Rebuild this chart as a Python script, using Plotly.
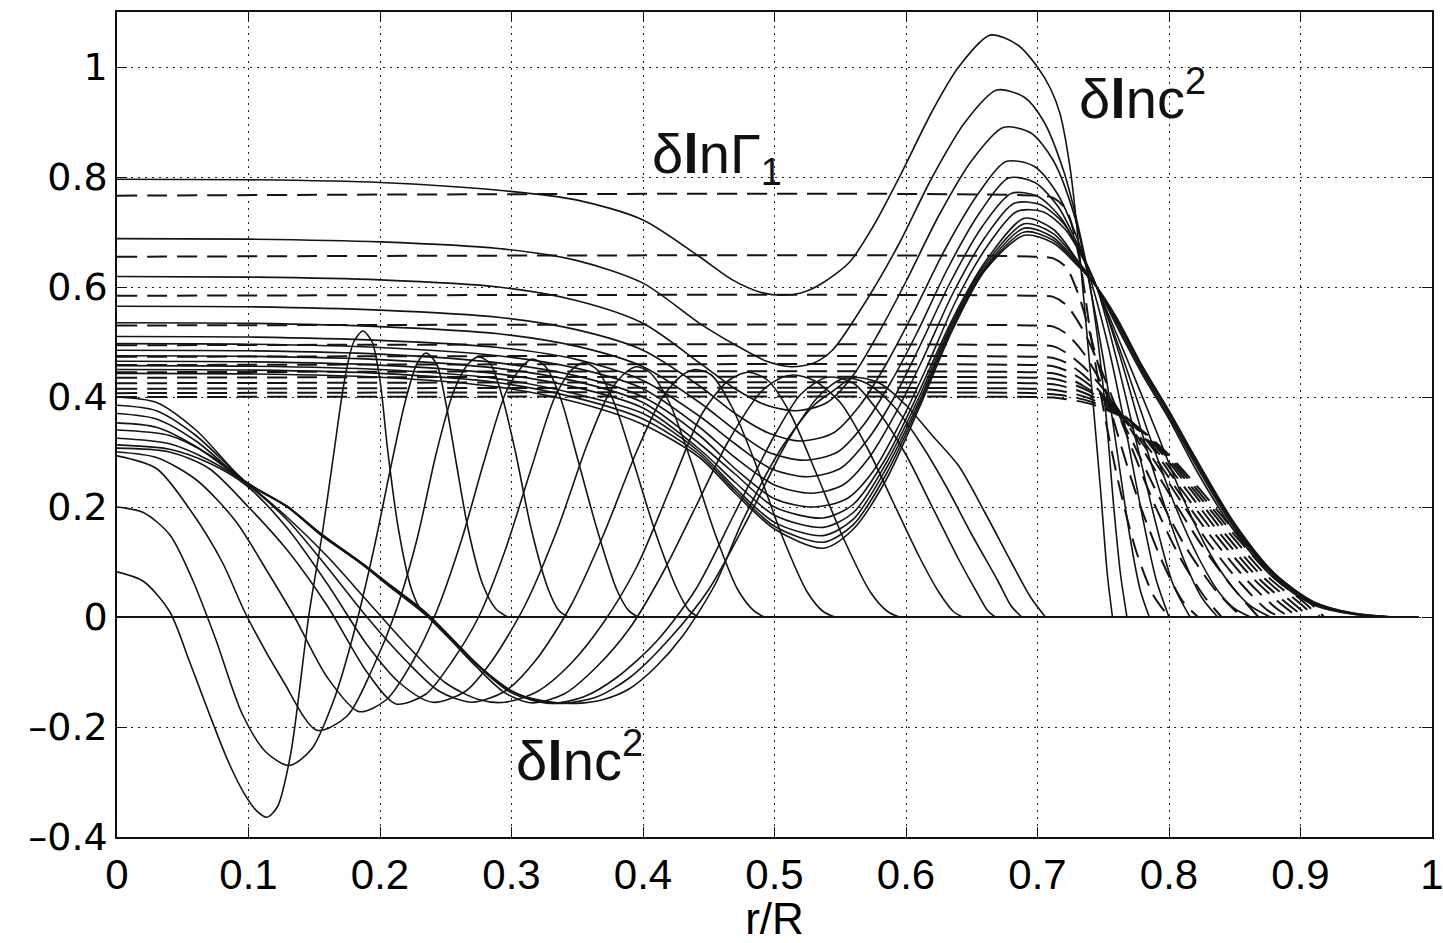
import plotly.graph_objects as go

# ---------------- data ----------------
X_TICKS = [0, 0.1, 0.2, 0.3, 0.4, 0.5, 0.6, 0.7, 0.8, 0.9, 1.0]
X_TICK_TEXT = ["0", "0.1", "0.2", "0.3", "0.4", "0.5", "0.6", "0.7", "0.8", "0.9", "1"]
Y_TICKS = [-0.4, -0.2, 0, 0.2, 0.4, 0.6, 0.8, 1.0]
Y_TICK_TEXT = ["\u20130.4", "\u20130.2", "0", "0.2", "0.4", "0.6", "0.8", "1"]

# dashed family: delta ln Gamma_1 (flat level, then a tail)
DASH_LEVELS = [0.766, 0.655, 0.584, 0.53, 0.494, 0.473, 0.458, 0.445, 0.435, 0.425, 0.415, 0.407, 0.40]
DASH_TAIL_X = [
    [0.712, 0.722, 0.732, 0.74, 0.75, 0.762, 0.775, 0.788, 0.8],
    [0.712, 0.722, 0.732, 0.745, 0.76, 0.777, 0.795, 0.81, 0.822],
    [0.712, 0.722, 0.735, 0.75, 0.768, 0.788, 0.808, 0.826, 0.84],
    [0.712, 0.722, 0.735, 0.75, 0.77, 0.79, 0.812, 0.835, 0.855],
    [0.712, 0.722, 0.735, 0.755, 0.775, 0.8, 0.825, 0.848, 0.868],
    [0.712, 0.722, 0.735, 0.755, 0.78, 0.805, 0.83, 0.855, 0.875, 0.885],
    [0.712, 0.722, 0.735, 0.757, 0.782, 0.808, 0.834, 0.86, 0.882, 0.892],
    [0.712, 0.722, 0.735, 0.76, 0.785, 0.81, 0.837, 0.864, 0.888, 0.898],
    [0.712, 0.722, 0.737, 0.762, 0.787, 0.813, 0.84, 0.867, 0.892, 0.903],
    [0.712, 0.722, 0.738, 0.764, 0.79, 0.816, 0.843, 0.87, 0.896, 0.907],
    [0.712, 0.722, 0.739, 0.766, 0.792, 0.818, 0.846, 0.873, 0.9, 0.911],
    [0.712, 0.722, 0.74, 0.768, 0.794, 0.82, 0.848, 0.876, 0.903, 0.915],
    [0.712, 0.722, 0.741, 0.77, 0.796, 0.822, 0.85, 0.878, 0.906, 0.918],
]
DASH_TAIL_Y = [
    [0.762, 0.74, 0.65, 0.52, 0.38, 0.24, 0.12, 0.04, 0.0],
    [0.652, 0.635, 0.58, 0.47, 0.34, 0.21, 0.10, 0.03, 0.0],
    [0.582, 0.567, 0.52, 0.44, 0.33, 0.21, 0.11, 0.04, 0.0],
    [0.528, 0.515, 0.48, 0.42, 0.33, 0.23, 0.13, 0.05, 0.0],
    [0.492, 0.48, 0.455, 0.40, 0.325, 0.225, 0.13, 0.055, 0.0],
    [0.471, 0.462, 0.44, 0.39, 0.315, 0.225, 0.135, 0.06, 0.012, 0.0],
    [0.456, 0.448, 0.43, 0.385, 0.315, 0.225, 0.14, 0.065, 0.015, 0.0],
    [0.443, 0.436, 0.42, 0.38, 0.315, 0.23, 0.145, 0.07, 0.018, 0.0],
    [0.433, 0.427, 0.413, 0.375, 0.313, 0.232, 0.148, 0.073, 0.02, 0.0],
    [0.423, 0.418, 0.405, 0.37, 0.31, 0.233, 0.15, 0.076, 0.022, 0.0],
    [0.413, 0.409, 0.398, 0.365, 0.308, 0.234, 0.152, 0.078, 0.024, 0.0],
    [0.405, 0.402, 0.392, 0.36, 0.306, 0.235, 0.154, 0.08, 0.026, 0.0],
    [0.399, 0.396, 0.387, 0.356, 0.304, 0.236, 0.156, 0.082, 0.028, 0.0],
]

# solid family: big delta ln c^2 responses (dip near 0.5, peak near 0.67)
C_X_OUTER = [0, 0.1, 0.2, 0.29, 0.35, 0.4, 0.443, 0.47, 0.5, 0.537, 0.56, 0.585, 0.61, 0.635,
             0.66, 0.69, 0.712, 0.73, 0.745, 0.76, 0.78, 0.8, 0.82, 0.85, 0.88, 0.91, 0.94, 0.97]
C_X = [
    [0, 0.1, 0.2, 0.29, 0.35, 0.4, 0.443, 0.468, 0.49, 0.506, 0.52, 0.535, 0.557, 0.575, 0.595, 0.62,
     0.64, 0.664, 0.685, 0.7, 0.71, 0.717, 0.725, 0.732, 0.74, 0.748, 0.753, 0.757],
    [0, 0.1, 0.2, 0.29, 0.35, 0.4, 0.443, 0.47, 0.494, 0.513, 0.53, 0.544, 0.57, 0.595, 0.62, 0.645,
     0.669, 0.69, 0.705, 0.72, 0.73, 0.738, 0.745, 0.752, 0.758, 0.763, 0.768],
    [0, 0.1, 0.2, 0.29, 0.35, 0.4, 0.443, 0.47, 0.494, 0.517, 0.54, 0.56, 0.58, 0.6, 0.625, 0.65,
     0.674, 0.695, 0.712, 0.728, 0.74, 0.75, 0.76, 0.77, 0.778, 0.785],
    [0, 0.1, 0.2, 0.29, 0.35, 0.4, 0.443, 0.47, 0.495, 0.52, 0.545, 0.565, 0.585, 0.605, 0.63, 0.655,
     0.676, 0.697, 0.715, 0.73, 0.742, 0.755, 0.768, 0.78, 0.79, 0.8],
    [0, 0.1, 0.2, 0.29, 0.35, 0.4, 0.443, 0.47, 0.495, 0.523, 0.548, 0.568, 0.588, 0.608, 0.632, 0.656,
     0.678, 0.698, 0.716, 0.731, 0.745, 0.76, 0.775, 0.79, 0.803, 0.816],
    [0, 0.1, 0.2, 0.29, 0.35, 0.4, 0.443, 0.47, 0.497, 0.525, 0.55, 0.57, 0.59, 0.61, 0.634, 0.658,
     0.68, 0.7, 0.718, 0.733, 0.745, 0.762, 0.78, 0.797, 0.812, 0.825, 0.837],
    [0, 0.1, 0.2, 0.29, 0.35, 0.4, 0.443, 0.47, 0.5, 0.528, 0.552, 0.572, 0.592, 0.612, 0.636, 0.66,
     0.682, 0.702, 0.72, 0.734, 0.745, 0.765, 0.785, 0.805, 0.822, 0.838, 0.85, 0.862],
    [0, 0.1, 0.2, 0.29, 0.35, 0.4, 0.443, 0.47, 0.5, 0.53, 0.555, 0.575, 0.595, 0.615, 0.638, 0.662,
     0.684, 0.704, 0.721, 0.735, 0.745, 0.767, 0.79, 0.81, 0.83, 0.848, 0.862, 0.877],
    C_X_OUTER, C_X_OUTER, C_X_OUTER, C_X_OUTER, C_X_OUTER,
]
C_Y = [
    [0.796, 0.795, 0.79, 0.776, 0.758, 0.722, 0.655, 0.613, 0.59, 0.585, 0.589, 0.605, 0.645, 0.71, 0.8, 0.92,
     1.0, 1.058, 1.04, 1.0, 0.96, 0.916, 0.813, 0.66, 0.45, 0.23, 0.08, 0.0],
    [0.688, 0.687, 0.682, 0.67, 0.648, 0.607, 0.534, 0.495, 0.465, 0.455, 0.462, 0.485, 0.576, 0.68, 0.8, 0.9,
     0.958, 0.945, 0.9, 0.81, 0.72, 0.63, 0.52, 0.37, 0.2, 0.08, 0.0],
    [0.619, 0.618, 0.613, 0.6, 0.575, 0.534, 0.462, 0.415, 0.385, 0.375, 0.39, 0.44, 0.52, 0.61, 0.73, 0.83,
     0.89, 0.88, 0.83, 0.73, 0.6, 0.47, 0.31, 0.15, 0.05, 0.0],
    [0.565, 0.564, 0.558, 0.545, 0.522, 0.485, 0.42, 0.37, 0.335, 0.32, 0.335, 0.385, 0.46, 0.55, 0.67, 0.77,
     0.828, 0.82, 0.77, 0.69, 0.6, 0.48, 0.33, 0.18, 0.07, 0.0],
    [0.535, 0.534, 0.528, 0.515, 0.492, 0.455, 0.39, 0.34, 0.3, 0.285, 0.3, 0.35, 0.425, 0.515, 0.635, 0.735,
     0.798, 0.79, 0.745, 0.675, 0.6, 0.47, 0.32, 0.17, 0.06, 0.0],
    [0.51, 0.509, 0.503, 0.49, 0.468, 0.43, 0.365, 0.315, 0.27, 0.255, 0.27, 0.32, 0.395, 0.49, 0.61, 0.71,
     0.77, 0.765, 0.725, 0.66, 0.6, 0.48, 0.33, 0.2, 0.1, 0.035, 0.0],
    [0.497, 0.496, 0.49, 0.475, 0.452, 0.415, 0.345, 0.29, 0.24, 0.225, 0.24, 0.29, 0.37, 0.465, 0.59, 0.69,
     0.752, 0.75, 0.715, 0.655, 0.6, 0.47, 0.33, 0.2, 0.11, 0.045, 0.015, 0.0],
    [0.485, 0.484, 0.478, 0.462, 0.438, 0.40, 0.33, 0.27, 0.215, 0.2, 0.215, 0.265, 0.35, 0.45, 0.575, 0.675,
     0.737, 0.737, 0.705, 0.65, 0.6, 0.475, 0.34, 0.22, 0.12, 0.055, 0.02, 0.0],
    [0.475, 0.474, 0.468, 0.452, 0.428, 0.39, 0.315, 0.26, 0.2, 0.18, 0.205, 0.29, 0.41, 0.54, 0.645,
     0.725, 0.705, 0.65, 0.6, 0.53, 0.44, 0.36, 0.27, 0.155, 0.07, 0.022, 0.005, 0.0],
    [0.465, 0.464, 0.458, 0.442, 0.417, 0.38, 0.305, 0.245, 0.185, 0.163, 0.19, 0.28, 0.40, 0.535, 0.64,
     0.715, 0.697, 0.648, 0.6, 0.535, 0.445, 0.365, 0.278, 0.16, 0.074, 0.024, 0.006, 0.0],
    [0.457, 0.456, 0.45, 0.433, 0.405, 0.37, 0.3, 0.235, 0.172, 0.148, 0.178, 0.27, 0.392, 0.53, 0.635,
     0.707, 0.69, 0.645, 0.6, 0.54, 0.45, 0.37, 0.283, 0.164, 0.077, 0.026, 0.006, 0.0],
    [0.45, 0.449, 0.443, 0.426, 0.398, 0.36, 0.295, 0.23, 0.165, 0.136, 0.168, 0.26, 0.386, 0.525, 0.632,
     0.70, 0.685, 0.642, 0.6, 0.543, 0.453, 0.372, 0.287, 0.167, 0.079, 0.027, 0.007, 0.0],
    [0.443, 0.442, 0.436, 0.418, 0.39, 0.35, 0.29, 0.225, 0.16, 0.125, 0.16, 0.25, 0.38, 0.52, 0.63,
     0.694, 0.68, 0.64, 0.6, 0.545, 0.455, 0.375, 0.29, 0.17, 0.08, 0.028, 0.007, 0.0],
]

# solid family: localised delta ln c^2 kernels (negative lobe + bump)
BUMP_X = [
    [0, 0.02, 0.04, 0.055, 0.07, 0.085, 0.097, 0.106, 0.114, 0.122, 0.132, 0.146, 0.156, 0.165, 0.173, 0.18,
     0.187, 0.194, 0.2, 0.206, 0.214, 0.224, 0.232, 0.238],
    [0, 0.02, 0.04, 0.057, 0.075, 0.095, 0.113, 0.131, 0.148, 0.165, 0.18, 0.195, 0.208, 0.219, 0.228,
     0.235, 0.243, 0.25, 0.258, 0.267, 0.278, 0.288, 0.297],
    [0, 0.03, 0.057, 0.08, 0.098, 0.126, 0.152, 0.175, 0.195, 0.212, 0.228, 0.243, 0.256, 0.267, 0.275,
     0.284, 0.293, 0.303, 0.315, 0.328, 0.336, 0.343],
    [0, 0.03, 0.06, 0.09, 0.115, 0.135, 0.16, 0.184, 0.205, 0.225, 0.243, 0.262, 0.28, 0.296, 0.308,
     0.316, 0.326, 0.337, 0.35, 0.365, 0.38, 0.389, 0.396],
    [0, 0.04, 0.07, 0.1, 0.13, 0.16, 0.19, 0.212, 0.235, 0.255, 0.275, 0.295, 0.315, 0.333, 0.346,
     0.355, 0.365, 0.378, 0.393, 0.41, 0.426, 0.435, 0.442],
    [0, 0.04, 0.07, 0.098, 0.13, 0.16, 0.19, 0.215, 0.24, 0.265, 0.285, 0.31, 0.335, 0.357, 0.375,
     0.387, 0.395, 0.405, 0.42, 0.437, 0.455, 0.472, 0.484, 0.492],
    [0, 0.04, 0.07, 0.098, 0.13, 0.16, 0.19, 0.22, 0.245, 0.27, 0.295, 0.318, 0.345, 0.37, 0.395,
     0.415, 0.43, 0.44, 0.452, 0.468, 0.487, 0.507, 0.525, 0.537, 0.546],
    [0, 0.04, 0.07, 0.098, 0.13, 0.16, 0.19, 0.22, 0.25, 0.275, 0.295, 0.32, 0.345, 0.37, 0.395,
     0.42, 0.445, 0.465, 0.48, 0.495, 0.512, 0.532, 0.553, 0.573, 0.586, 0.595],
    [0, 0.03, 0.06, 0.098, 0.13, 0.156, 0.185, 0.209, 0.235, 0.255, 0.273, 0.295, 0.315, 0.34, 0.365,
     0.39, 0.415, 0.44, 0.465, 0.49, 0.505, 0.515, 0.53, 0.55, 0.57, 0.59, 0.61, 0.625, 0.636, 0.643],
    [0, 0.03, 0.06, 0.098, 0.13, 0.156, 0.185, 0.209, 0.235, 0.255, 0.273, 0.3, 0.33, 0.355, 0.38,
     0.41, 0.44, 0.47, 0.5, 0.52, 0.54, 0.56, 0.58, 0.6, 0.62, 0.64, 0.655, 0.662, 0.668],
    [0, 0.03, 0.06, 0.098, 0.13, 0.156, 0.185, 0.209, 0.235, 0.255, 0.273, 0.3, 0.32, 0.34, 0.365,
     0.39, 0.42, 0.45, 0.48, 0.51, 0.535, 0.553, 0.57, 0.59, 0.61, 0.63, 0.65, 0.67, 0.68, 0.688],
    [0, 0.03, 0.06, 0.098, 0.13, 0.156, 0.185, 0.209, 0.235, 0.255, 0.273, 0.298, 0.325, 0.35, 0.37,
     0.39, 0.41, 0.43, 0.455, 0.476, 0.506, 0.53, 0.544, 0.56, 0.58, 0.6, 0.62, 0.64, 0.66, 0.68,
     0.695, 0.706],
]
BUMP_Y = [
    [0.082, 0.065, 0.01, -0.08, -0.175, -0.265, -0.322, -0.352, -0.364, -0.345, -0.25, 0.005, 0.15, 0.30,
     0.43, 0.50, 0.52, 0.50, 0.43, 0.30, 0.16, 0.05, 0.01, 0.0],
    [0.2, 0.19, 0.15, 0.07, -0.04, -0.175, -0.245, -0.27, -0.24, -0.15, -0.03, 0.12, 0.27, 0.39, 0.46,
     0.48, 0.46, 0.39, 0.28, 0.16, 0.06, 0.015, 0.0],
    [0.293, 0.27, 0.19, 0.1, 0.005, -0.115, -0.206, -0.18, -0.09, 0.01, 0.14, 0.3, 0.41, 0.46, 0.473,
     0.46, 0.4, 0.3, 0.16, 0.05, 0.012, 0.0],
    [0.30, 0.29, 0.25, 0.175, 0.08, 0.0, -0.11, -0.172, -0.15, -0.08, 0.01, 0.14, 0.29, 0.41, 0.455,
     0.469, 0.455, 0.4, 0.29, 0.16, 0.05, 0.012, 0.0],
    [0.307, 0.3, 0.27, 0.2, 0.12, 0.02, -0.1, -0.158, -0.14, -0.08, 0.0, 0.12, 0.27, 0.40, 0.45,
     0.462, 0.45, 0.39, 0.28, 0.15, 0.05, 0.012, 0.0],
    [0.313, 0.305, 0.28, 0.24, 0.16, 0.06, -0.05, -0.12, -0.155, -0.135, -0.08, 0.02, 0.16, 0.31, 0.41,
     0.445, 0.455, 0.445, 0.39, 0.28, 0.15, 0.05, 0.012, 0.0],
    [0.325, 0.315, 0.285, 0.243, 0.175, 0.09, 0.0, -0.08, -0.135, -0.155, -0.135, -0.08, 0.02, 0.15, 0.3,
     0.4, 0.44, 0.45, 0.44, 0.38, 0.27, 0.14, 0.045, 0.01, 0.0],
    [0.34, 0.33, 0.295, 0.245, 0.18, 0.11, 0.03, -0.05, -0.12, -0.15, -0.155, -0.135, -0.085, -0.01, 0.09,
     0.23, 0.37, 0.43, 0.445, 0.43, 0.37, 0.26, 0.14, 0.045, 0.01, 0.0],
    [0.353, 0.345, 0.31, 0.245, 0.2, 0.148, 0.098, 0.052, 0.003, -0.045, -0.09, -0.138, -0.156, -0.14, -0.09,
     -0.02, 0.08, 0.2, 0.32, 0.41, 0.435, 0.44, 0.43, 0.39, 0.31, 0.21, 0.11, 0.045, 0.01, 0.0],
    [0.37, 0.36, 0.32, 0.245, 0.199, 0.147, 0.099, 0.054, 0.006, -0.042, -0.086, -0.138, -0.157, -0.145, -0.11,
     -0.045, 0.05, 0.19, 0.33, 0.405, 0.436, 0.425, 0.37, 0.295, 0.2, 0.105, 0.04, 0.012, 0.0],
    [0.385, 0.375, 0.33, 0.246, 0.2, 0.149, 0.1, 0.055, 0.007, -0.04, -0.084, -0.134, -0.152, -0.157, -0.145,
     -0.11, -0.04, 0.05, 0.18, 0.32, 0.405, 0.434, 0.425, 0.385, 0.32, 0.24, 0.15, 0.065, 0.02, 0.0],
    [0.40, 0.39, 0.34, 0.245, 0.2, 0.15, 0.1, 0.056, 0.008, -0.04, -0.084, -0.133, -0.153, -0.157, -0.15,
     -0.13, -0.09, -0.035, 0.06, 0.176, 0.31, 0.385, 0.41, 0.435, 0.425, 0.385, 0.33, 0.275, 0.19, 0.1,
     0.035, 0.0],
]

ZERO_X = [0.0, 0.99]
ZERO_Y = [0.0, 0.0]

SUP2 = '<sup><span style="font-size:38px">2</span></sup>'
LABELS = [
    {"text": "\u03b4<b>l</b>n\u0393<sub><span style=\"font-size:38px\">1</span></sub>", "x": 0.405, "y": 0.835},
    {"text": "\u03b4<b>l</b>nc" + SUP2, "x": 0.73, "y": 0.95},
    {"text": "\u03b4<b>l</b>nc" + SUP2, "x": 0.302, "y": -0.255},
]

# ---------------- figure ----------------
INK = "#141414"
fig = go.Figure()

for j, lev in enumerate(DASH_LEVELS):
    fig.add_trace(go.Scatter(
        x=[0.0, 0.7] + DASH_TAIL_X[j], y=[lev, lev] + DASH_TAIL_Y[j], mode="lines",
        line=dict(color=INK, width=2, dash="20px,10px", shape="spline", smoothing=0.8),
        hoverinfo="skip", showlegend=False))

for xs, ys in zip(C_X, C_Y):
    fig.add_trace(go.Scatter(
        x=xs, y=ys, mode="lines",
        line=dict(color=INK, width=1.6, shape="spline", smoothing=0.8),
        hoverinfo="skip", showlegend=False))

for xs, ys in zip(BUMP_X, BUMP_Y):
    fig.add_trace(go.Scatter(
        x=xs, y=ys, mode="lines",
        line=dict(color=INK, width=1.6, shape="spline", smoothing=0.8),
        hoverinfo="skip", showlegend=False))

fig.add_trace(go.Scatter(x=ZERO_X, y=ZERO_Y, mode="lines",
                         line=dict(color=INK, width=2), hoverinfo="skip", showlegend=False))

SANS = "Liberation Sans, Arial, sans-serif"
for lab in LABELS:
    fig.add_annotation(x=lab["x"], y=lab["y"], xref="x", yref="y", text=lab["text"],
                       showarrow=False, xanchor="left", yanchor="middle",
                       font=dict(family=SANS, size=56, color="#111"))

axis_common = dict(
    showline=True, linecolor="#111", linewidth=1.5, mirror="ticks",
    ticks="inside", ticklen=10, tickwidth=1.3, tickcolor="#111",
    showgrid=True, gridcolor="#222", gridwidth=1.4, griddash="2px,5px",
    zeroline=False, automargin=False, ticklabeloverflow="allow",
)
fig.update_xaxes(range=[0, 1], tickvals=X_TICKS, ticktext=X_TICK_TEXT,
                 tickfont=dict(family=SANS, size=42, color="#000"),
                 title=dict(text="r/R", font=dict(family=SANS, size=44, color="#000"), standoff=5),
                 **axis_common)
fig.update_yaxes(range=[-0.4, 1.1], tickvals=Y_TICKS, ticktext=Y_TICK_TEXT,
                 tickfont=dict(family="DejaVu Sans, Liberation Sans, sans-serif", size=38, color="#000"),
                 **axis_common)

fig.update_layout(width=1443, height=943, margin=dict(l=117, r=11, t=12, b=106, autoexpand=False),
                  plot_bgcolor="white", paper_bgcolor="white", showlegend=False)

fig.write_html("out.html")
